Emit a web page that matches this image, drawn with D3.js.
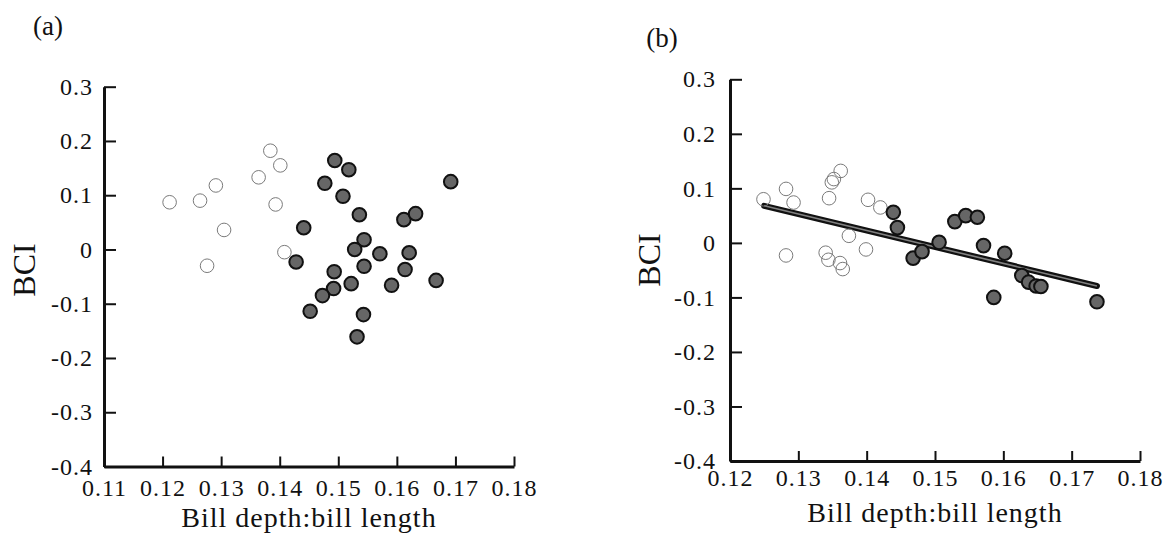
<!DOCTYPE html>
<html lang="en">
<head>
  <meta charset="UTF-8">
  <title>BCI vs bill depth:bill length</title>
  <script src="https://d3js.org/d3.v7.min.js"></script>
  <style>
    body { margin: 0; background: #fff; }
    .axis .domain { stroke: #111; stroke-width: 3px; }
    .axis .tick line { stroke: #111; stroke-width: 2px; }
  </style>
</head>
<body>
  <svg id="chart" width="1165" height="535"></svg>

  <script>
    // panel (a)
    const aOpenX = [0.1212, 0.1264, 0.1291, 0.1305, 0.1276, 0.1364, 0.1384, 0.1401, 0.1393, 0.1408];
    const aOpenY = [0.087, 0.090, 0.118, 0.036, -0.030, 0.133, 0.182, 0.155, 0.083, -0.005];
    const aFilledX = [0.1494, 0.1518, 0.1477, 0.1508, 0.1536, 0.1441, 0.1544, 0.1528, 0.1571, 0.1612,
                      0.1632, 0.1621, 0.1692, 0.1428, 0.1493, 0.1544, 0.1614, 0.1522, 0.1492, 0.1473,
                      0.1591, 0.1667, 0.1452, 0.1543, 0.1532];
    const aFilledY = [0.164, 0.147, 0.122, 0.098, 0.064, 0.040, 0.018, 0.000, -0.008, 0.055,
                      0.066, -0.006, 0.125, -0.023, -0.041, -0.031, -0.037, -0.063, -0.072, -0.085,
                      -0.066, -0.057, -0.114, -0.120, -0.161];

    // panel (b)
    const bOpenX = [0.1249, 0.1282, 0.1293, 0.1345, 0.1349, 0.1352, 0.1362, 0.1402, 0.1420, 0.1374,
                    0.1399, 0.1282, 0.1340, 0.1344, 0.1361, 0.1365];
    const bOpenY = [0.080, 0.099, 0.074, 0.082, 0.111, 0.117, 0.132, 0.079, 0.065, 0.013,
                    -0.012, -0.023, -0.018, -0.031, -0.037, -0.048];
    const bFilledX = [0.1439, 0.1445, 0.1468, 0.1481, 0.1506, 0.1529, 0.1545, 0.1562, 0.1571, 0.1602,
                      0.1627, 0.1637, 0.1648, 0.1655, 0.1586, 0.1737];
    const bFilledY = [0.056, 0.028, -0.028, -0.016, 0.001, 0.039, 0.050, 0.047, -0.005, -0.019,
                      -0.060, -0.072, -0.079, -0.080, -0.100, -0.108];
    // fitted line, end points
    const bFitX = [0.1250, 0.1737];
    const bFitY = [0.068, -0.079];

    const yTicks = [0.3, 0.2, 0.1, 0, -0.1, -0.2, -0.3, -0.4];
    const aXTicks = [0.11, 0.12, 0.13, 0.14, 0.15, 0.16, 0.17, 0.18];
    const bXTicks = [0.12, 0.13, 0.14, 0.15, 0.16, 0.17, 0.18];

    const SERIF = '"Liberation Serif", "Times New Roman", Times, "DejaVu Serif", serif';
    const svg = d3.select("#chart");

    function drawPanel(p) {
      const x = d3.scaleLinear().domain([p.xTicks[0], p.xTicks[p.xTicks.length - 1]]).range(p.xRange);
      const y = d3.scaleLinear().domain([-0.4, 0.3]).range(p.yRange);
      const g = svg.append("g");

      g.append("g")
        .attr("class", "axis")
        .attr("transform", `translate(0,${p.yRange[0]})`)
        .call(d3.axisBottom(x).tickValues(p.xTicks).tickSizeInner(-10).tickSizeOuter(0)
          .tickPadding(p.xPad).tickFormat(d => d.toFixed(2)));

      g.append("g")
        .attr("class", "axis")
        .attr("transform", `translate(${p.xRange[0]},0)`)
        .call(d3.axisLeft(y).tickValues(yTicks).tickSizeInner(-12).tickSizeOuter(0)
          .tickPadding(p.yPad).tickFormat(d => d === 0 ? "0" : d.toFixed(1)));

      g.selectAll(".axis").attr("font-family", null);
      g.selectAll(".axis text")
        .style("font-family", SERIF)
        .style("font-size", "24px")
        .style("letter-spacing", "1px")
        .attr("fill", "#111");

      if (p.fitX) {
        const line = d3.line().x(d => x(d[0])).y(d => y(d[1]));
        const pts = d3.zip(p.fitX, p.fitY);
        g.append("path").attr("d", line(pts)).attr("stroke", "#111").attr("stroke-width", 6)
          .attr("stroke-linecap", "round").attr("fill", "none");
        g.append("path").attr("d", line(pts)).attr("stroke", "#808080").attr("stroke-width", 1.6)
          .attr("fill", "none");
      }

      g.selectAll(".open")
        .data(d3.zip(p.openX, p.openY))
        .join("circle")
        .attr("class", "open")
        .attr("cx", d => x(d[0]))
        .attr("cy", d => y(d[1]))
        .attr("r", 6.8)
        .attr("fill", "none")
        .attr("stroke", "#7a7a7a")
        .attr("stroke-width", 1);

      g.selectAll(".filled")
        .data(d3.zip(p.filledX, p.filledY))
        .join("circle")
        .attr("class", "filled")
        .attr("cx", d => x(d[0]))
        .attr("cy", d => y(d[1]))
        .attr("r", 6.8)
        .attr("fill", "#666")
        .attr("stroke", "#111")
        .attr("stroke-width", 2);

      g.append("text")
        .attr("x", (p.xRange[0] + p.xRange[1]) / 2)
        .attr("y", p.titleY)
        .attr("text-anchor", "middle")
        .style("font-family", SERIF)
        .style("font-size", "28px")
        .style("letter-spacing", "1px")
        .attr("fill", "#111")
        .text("Bill depth:bill length");

      g.append("text")
        .attr("transform", `translate(${p.bciX},${p.bciY}) rotate(-90)`)
        .attr("text-anchor", "middle")
        .attr("dominant-baseline", "central")
        .style("font-family", SERIF)
        .style("font-size", "32px")
        .attr("fill", "#111")
        .text("BCI");

      g.append("text")
        .attr("x", p.labelX)
        .attr("y", p.labelY)
        .attr("text-anchor", "middle")
        .style("font-family", SERIF)
        .style("font-size", "27px")
        .attr("fill", "#111")
        .text(p.label);
    }

    drawPanel({
      label: "(a)", labelX: 48, labelY: 35,
      xTicks: aXTicks, xRange: [104, 514], yRange: [466.5, 86.7],
      xPad: 12, yPad: 11, titleY: 527, bciX: 24, bciY: 270,
      openX: aOpenX, openY: aOpenY, filledX: aFilledX, filledY: aFilledY
    });

    drawPanel({
      label: "(b)", labelX: 662, labelY: 47,
      xTicks: bXTicks, xRange: [730, 1140], yRange: [461, 79.3],
      xPad: 8, yPad: 14, titleY: 522, bciX: 649, bciY: 260,
      openX: bOpenX, openY: bOpenY, filledX: bFilledX, filledY: bFilledY,
      fitX: bFitX, fitY: bFitY
    });
  </script>
</body>
</html>
